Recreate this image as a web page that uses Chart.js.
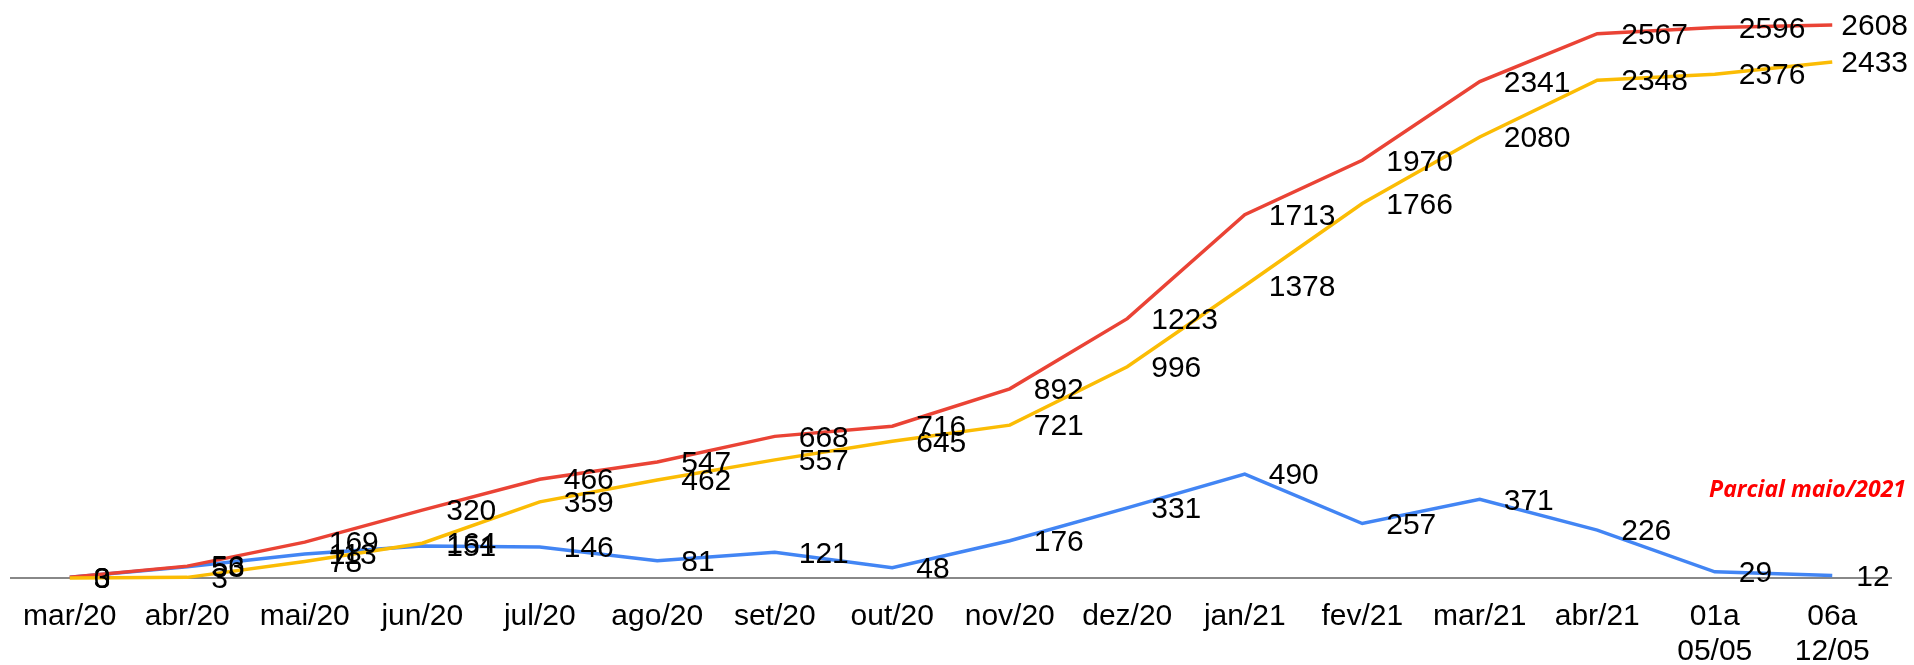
<!DOCTYPE html>
<html>
<head>
<meta charset="utf-8">
<script src="https://cdn.jsdelivr.net/npm/chart.js@4.4.1/dist/chart.umd.min.js"></script>
<style>
  html, body { margin: 0; padding: 0; background: #fff; }
  #wrap { width: 1914px; height: 665px; }
</style>
</head>
<body>
<div id="wrap"><canvas id="myChart" width="1914" height="665"></canvas></div>
<script>
// Chart data - START
const categories = [
  'mar/20', 'abr/20', 'mai/20', 'jun/20', 'jul/20', 'ago/20', 'set/20', 'out/20',
  'nov/20', 'dez/20', 'jan/21', 'fev/21', 'mar/21', 'abr/21',
  ['01a', '05/05'], ['06a', '12/05']
];
const casosMes = [3, 53, 113, 151, 146, 81, 121, 48, 176, 331, 490, 257, 371, 226, 29, 12];
const casosAcumulados = [3, 56, 169, 320, 466, 547, 668, 716, 892, 1223, 1713, 1970, 2341, 2567, 2596, 2608];
const recuperados = [0, 3, 78, 164, 359, 462, 557, 645, 721, 996, 1378, 1766, 2080, 2348, 2376, 2433];
const noteText = 'Parcial maio/2021';
// Chart data - END

const labelFont = '30px "Liberation Sans", Arial, sans-serif';

// draws the value next to every point, plus the red note
const valueLabels = {
  id: 'valueLabels',
  afterDatasetsDraw(chart) {
    const ctx = chart.ctx;
    ctx.save();
    ctx.font = labelFont;
    ctx.fillStyle = '#000';
    ctx.textAlign = 'left';
    ctx.textBaseline = 'middle';
    chart.data.datasets.forEach(function (ds, i) {
      chart.getDatasetMeta(i).data.forEach(function (pt, j) {
        let txt = String(ds.data[j]);
        let w = ctx.measureText(txt).width;
        let x = pt.x + 24;
        if (x + w > chart.width - 6) x = chart.width - 6 - w;
        ctx.fillText(txt, x, pt.y + 2);
      });
    });

    ctx.font = 'italic bold 23px "Open Sans", sans-serif';
    ctx.fillStyle = '#ff0000';
    ctx.textAlign = 'right';
    ctx.textBaseline = 'alphabetic';
    ctx.fillText(noteText, chart.chartArea.right + 15, 497);
    ctx.restore();
  }
};

const data = {
  labels: categories,
  datasets: [
    {
      label: 'Recuperados',
      data: recuperados,
      borderColor: '#FBBC04',
      backgroundColor: '#FBBC04'
    },
    {
      label: 'Casos acumulados',
      data: casosAcumulados,
      borderColor: '#EA4335',
      backgroundColor: '#EA4335'
    },
    {
      label: 'Casos no mês',
      data: casosMes,
      borderColor: '#4285F4',
      backgroundColor: '#4285F4'
    }
  ]
};

const config = {
  type: 'line',
  data: data,
  options: {
    responsive: false,
    animation: false,
    devicePixelRatio: 1,
    layout: { padding: { left: 11, right: 23, top: 5.5, bottom: 0 } },
    elements: {
      line: { borderWidth: 3.5, tension: 0 },
      point: { radius: 0, hoverRadius: 0 }
    },
    datasets: { line: { clip: false } },
    plugins: {
      legend: { display: false },
      tooltip: { enabled: false }
    },
    scales: {
      x: {
        offset: true,
        grid: { display: false, drawTicks: false },
        border: { display: true, color: '#888888', width: 2 },
        ticks: {
          color: '#000',
          font: { family: '"Liberation Sans", Arial, sans-serif', size: 30, lineHeight: 1.1667 },
          padding: 21,
          maxRotation: 0,
          autoSkip: false
        },
        afterFit: function (scale) { scale.height = 87; }
      },
      y: {
        display: false,
        min: 0,
        max: 2700
      }
    }
  },
  plugins: [valueLabels]
};

const myChart = new Chart(document.getElementById('myChart'), config);
</script>
</body>
</html>
